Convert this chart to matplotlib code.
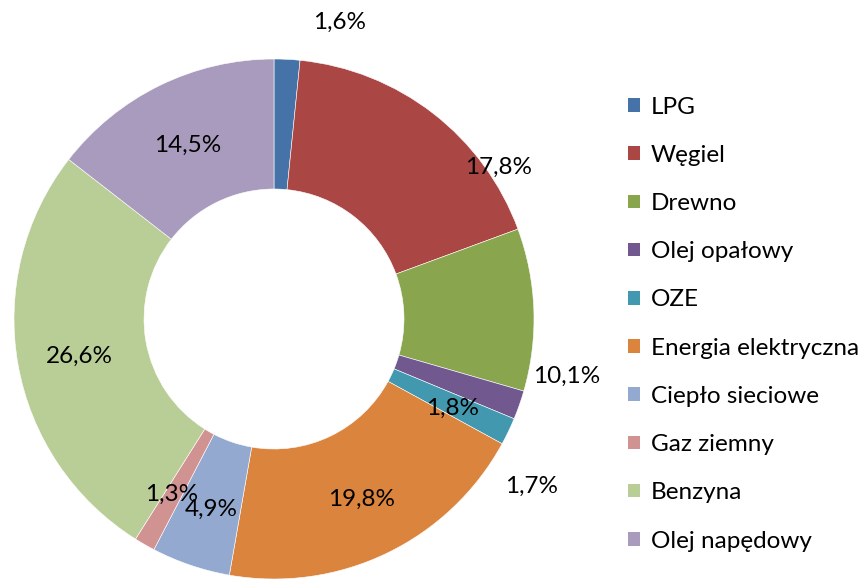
import matplotlib.pyplot as plt
from matplotlib.patches import Patch

# dane
kategorie = ['LPG', 'Węgiel', 'Drewno', 'Olej opałowy', 'OZE', 'Energia elektryczna',
             'Ciepło sieciowe', 'Gaz ziemny', 'Benzyna', 'Olej napędowy']
udzialy = [1.6, 17.8, 10.1, 1.8, 1.7, 19.8, 4.9, 1.3, 26.6, 14.5]
etykiety = ['1,6%', '17,8%', '10,1%', '1,8%', '1,7%', '19,8%', '4,9%', '1,3%', '26,6%', '14,5%']
kolory = ['#4572A7', '#AA4643', '#89A54E', '#71588F', '#4198AF', '#DB843D',
          '#93A9CF', '#D19392', '#B9CD96', '#A99BBD']

# pozycje etykiet (jak w Excelu, czesc na zewnatrz)
poz_x = [0.254, 0.862, 1.127, 0.685, 0.992, 0.338, -0.242, -0.392, -0.75, -0.331]
poz_y = [1.142, 0.585, -0.219, -0.342, -0.642, -0.692, -0.731, -0.673, -0.142, 0.669]

plt.rcParams['font.family'] = ['Lato', 'DejaVu Sans']
fs = 17.5

fig = plt.figure(figsize=(8.66, 5.79), dpi=100)
ax = fig.add_axes([274/866 - 260/866, 0.0, 520/866, 520/579])
ax.pie(udzialy, colors=kolory, startangle=90, counterclock=False, radius=1,
       wedgeprops=dict(width=0.5, edgecolor='white', linewidth=0.4))
for t, x, y in zip(etykiety, poz_x, poz_y):
    ax.text(x, y, t, ha='center', va='center', fontsize=fs, color='black')
ax.set_xlim(-1, 1)
ax.set_ylim(-1, 1)
ax.set_aspect('equal')
ax.axis('off')

uchwyty = [Patch(facecolor=c, edgecolor='none') for c in kolory]
fig.legend(uchwyty, kategorie, loc='center left', bbox_to_anchor=(628/866, 1 - 324/579),
           frameon=False, fontsize=fs, handlelength=0.48, handleheight=0.48,
           handletextpad=0.45, labelspacing=1.12, borderaxespad=0, borderpad=0)

fig.savefig('out.png', dpi=100)
